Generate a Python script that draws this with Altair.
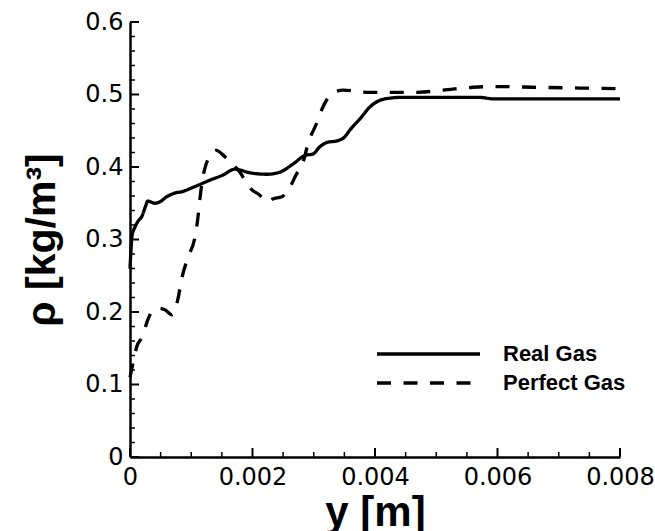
import altair as alt
import pandas as pd

# ---- data ----
series_names = ["Real Gas", "Perfect Gas"]

real_y = [0.0, 0.000016, 0.000033, 0.00008, 0.00013, 0.0002, 0.00025, 0.00029,
          0.00041, 0.00049, 0.0006, 0.00073, 0.00085, 0.00103, 0.00131, 0.00152,
          0.00171, 0.00196, 0.00224, 0.00245, 0.00266, 0.00286, 0.00299, 0.0031,
          0.00322, 0.00338, 0.00351, 0.00359, 0.00376, 0.00392, 0.00408, 0.00425,
          0.00441, 0.00571, 0.00593, 0.008]
real_rho = [0.260, 0.285, 0.305, 0.317, 0.325, 0.333, 0.345, 0.353,
            0.350, 0.352, 0.359, 0.364, 0.366, 0.372, 0.382, 0.389,
            0.397, 0.392, 0.390, 0.393, 0.404, 0.416, 0.418, 0.428,
            0.434, 0.436, 0.442, 0.451, 0.467, 0.483, 0.492, 0.495,
            0.496, 0.496, 0.494, 0.494]

perfect_y = [0.0, 0.000016, 0.00005, 0.00011, 0.0002, 0.00029, 0.00038, 0.00049,
             0.00057, 0.00069, 0.00078, 0.00085, 0.00095, 0.00106, 0.00111, 0.00114,
             0.00119, 0.00124, 0.00133, 0.00141, 0.00155, 0.0018, 0.00196, 0.00212,
             0.00224, 0.00233, 0.00248, 0.00261, 0.00271, 0.00282, 0.00291, 0.00305,
             0.00313, 0.00331, 0.00348, 0.00387, 0.00469, 0.00511, 0.0056, 0.00593,
             0.00658, 0.008]
perfect_rho = [0.110, 0.116, 0.130, 0.152, 0.166, 0.189, 0.203, 0.205,
               0.203, 0.196, 0.217, 0.248, 0.276, 0.303, 0.331, 0.355,
               0.386, 0.403, 0.418, 0.423, 0.414, 0.392, 0.371, 0.361,
               0.352, 0.356, 0.359, 0.372, 0.389, 0.405, 0.433, 0.461,
               0.479, 0.502, 0.506, 0.503, 0.503, 0.506, 0.510, 0.511,
               0.510, 0.508]

x_major_values = [0.0, 0.002, 0.004, 0.006, 0.008]
x_minor_values = [0.0005, 0.001, 0.0015, 0.0025, 0.003, 0.0035, 0.0045, 0.005,
                  0.0055, 0.0065, 0.007, 0.0075]
y_major_values = [0.0, 0.1, 0.2, 0.3, 0.4, 0.5, 0.6]
y_minor_values = [0.02, 0.04, 0.06, 0.08, 0.12, 0.14, 0.16, 0.18, 0.22, 0.24,
                  0.26, 0.28, 0.32, 0.34, 0.36, 0.38, 0.42, 0.44, 0.46, 0.48,
                  0.52, 0.54, 0.56, 0.58]

df = pd.concat([
    pd.DataFrame({"y": real_y, "rho": real_rho, "series": series_names[0]}),
    pd.DataFrame({"y": perfect_y, "rho": perfect_rho, "series": series_names[1]}),
])

W, H = 490, 435
x_scale = alt.Scale(domain=[0, 0.008], nice=False, zero=False)
y_scale = alt.Scale(domain=[0, 0.6], nice=False)

# main axes: domain line, labels, titles (ticks drawn inward below)
x_axis = alt.Axis(
    orient="bottom", values=x_major_values, ticks=False,
    domainColor="black", domainWidth=2.5,
    labelExpr="datum.value == 0 ? '0' : format(datum.value, '.3f')",
    labelFont="DejaVu Sans", labelFontSize=24, labelColor="black",
    labelPadding=8, labelFlush=False, labelOverlap=False, grid=False,
    title="y [m]", titleFont="Liberation Sans", titleFontSize=42,
    titleFontWeight="bold", titleColor="black", titlePadding=3,
)
y_axis = alt.Axis(
    orient="left", values=y_major_values, ticks=False,
    domainColor="black", domainWidth=2.5,
    labelExpr="datum.value == 0 ? '0' : format(datum.value, '.1f')",
    labelFont="DejaVu Sans", labelFontSize=24, labelColor="black",
    labelPadding=7, labelFlush=False, labelOverlap=False, grid=False,
    title="ρ [kg/m³]", titleFont="Liberation Sans", titleFontSize=41,
    titleFontWeight="bold", titleColor="black", titlePadding=21,
)

lines = alt.Chart(df).mark_line(color="black", strokeWidth=3.3, interpolate="monotone").encode(
    x=alt.X("y:Q", scale=x_scale, axis=x_axis),
    y=alt.Y("rho:Q", scale=y_scale, axis=y_axis),
    strokeDash=alt.StrokeDash("series:N",
                              scale=alt.Scale(domain=series_names, range=[[1, 0], [14, 12.5]]),
                              legend=None),
)


def x_ticks(values, length, width):
    return alt.Chart(pd.DataFrame({"v": values})).mark_rule(color="black", strokeWidth=width).encode(
        x=alt.X("v:Q", scale=x_scale, axis=x_axis),
        y=alt.value(H), y2=alt.value(H - length),
    )


def y_ticks(values, length, width):
    return alt.Chart(pd.DataFrame({"v": values})).mark_rule(color="black", strokeWidth=width).encode(
        y=alt.Y("v:Q", scale=y_scale, axis=y_axis),
        x=alt.value(0), x2=alt.value(length),
    )


# legend drawn in the plot's lower right, as in the reference
leg_solid = alt.Chart(pd.DataFrame({"s": [series_names[0]]})).mark_rule(
    color="black", strokeWidth=3.3).encode(x=alt.value(247), x2=alt.value(350), y=alt.value(332))
leg_dash = alt.Chart(pd.DataFrame({"s": [series_names[1]]})).mark_rule(
    color="black", strokeWidth=3.3, strokeDash=[14, 12.5]).encode(
    x=alt.value(247), x2=alt.value(341), y=alt.value(361))


def leg_text(name, ypix):
    return alt.Chart(pd.DataFrame({"s": [name]})).mark_text(
        font="Liberation Sans", fontSize=22, fontWeight="bold", color="black",
        align="left", baseline="middle").encode(
        text="s:N", x=alt.value(373), y=alt.value(ypix))


chart = alt.layer(
    lines,
    x_ticks(x_major_values, 9, 2), x_ticks(x_minor_values, 5, 1.5),
    y_ticks(y_major_values, 9, 2), y_ticks(y_minor_values, 5, 1.5),
    leg_solid, leg_dash,
    leg_text(series_names[0], 332), leg_text(series_names[1], 361),
).properties(
    width=W, height=H,
    autosize=alt.AutoSizeParams(type="none"),
    padding={"left": 130, "top": 22, "right": 35, "bottom": 74},
    background="white",
).configure_view(stroke=None)

chart.save("out.html", embed_options={"renderer": "svg", "actions": False})
